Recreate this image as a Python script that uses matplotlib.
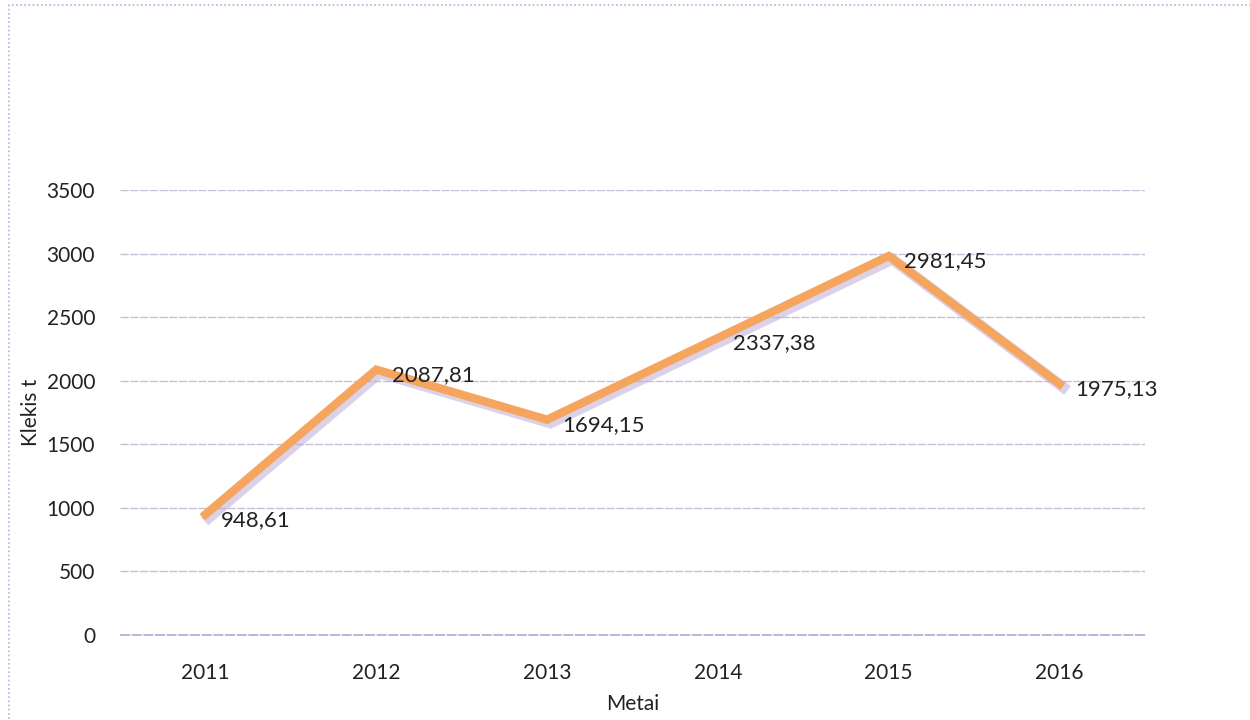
import matplotlib.pyplot as plt
from matplotlib.patches import Rectangle

years = ["2011", "2012", "2013", "2014", "2015", "2016"]
values = [948.61, 2087.81, 1694.15, 2337.38, 2981.45, 1975.13]
labels = ["948,61", "2087,81", "1694,15", "2337,38", "2981,45", "1975,13"]

plt.rcParams["font.family"] = ["Lato", "DejaVu Sans"]

fig = plt.figure(figsize=(12.5, 7.2), dpi=100)
ax = fig.add_axes([0.096, 0.118, 0.82, 0.618])

x = list(range(len(years)))
# soft shadow under the line
ax.plot([i + 0.02 for i in x], [v - 25 for v in values], color="#b9a6d6", lw=8, alpha=0.5,
        solid_joinstyle="miter", zorder=2)
ax.plot(x, values, color="#f5a55e", lw=6, solid_joinstyle="miter", zorder=3)

for i, (v, t) in enumerate(zip(values, labels)):
    ax.annotate(t, (i, v), xytext=(11, -4), textcoords="offset points",
                ha="left", va="center", fontsize=16, color="#222222", zorder=4)

ax.set_xlim(-0.5, len(years) - 0.5)
ax.set_ylim(0, 3500)
ax.set_yticks(range(0, 3501, 500))
ax.set_xticks(x)
ax.set_xticklabels(years)
ax.tick_params(length=0, labelsize=15, colors="#222222")
ax.tick_params(axis="x", pad=20)
ax.tick_params(axis="y", pad=18)
ax.grid(axis="y", color="#c9bfd9", lw=1, ls=(0, (6, 1)))
ax.axhline(0, color="#b9a6d6", lw=1.2, ls=(0, (6, 1)), clip_on=False, zorder=1)
ax.set_axisbelow(True)
for s in ax.spines.values():
    s.set_visible(False)

ax.set_xlabel("Metai", fontsize=15, color="#222222", labelpad=8)
ax.set_ylabel("Klekis t", fontsize=15, color="#222222", labelpad=4)

# dotted frame of the scanned chart
fig.patches.append(Rectangle((0.007, -0.02), 1.2, 1.013, transform=fig.transFigure,
                             fill=False, ec="#c9a6e0", lw=1.2, ls=(0, (1, 1.5))))

fig.savefig("out.png", dpi=100)
plt.close(fig)
